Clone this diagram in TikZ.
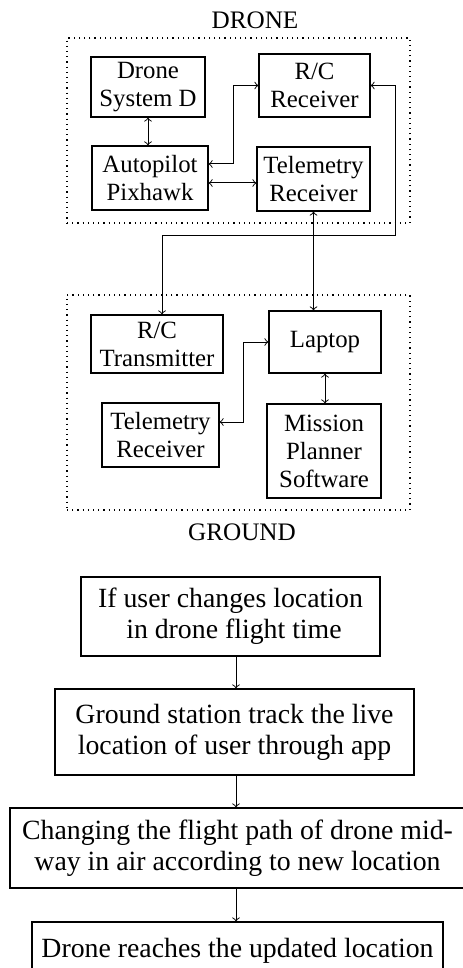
\documentclass[tikz,border=0pt]{standalone}
\usepackage{fontspec}
\setmainfont{Liberation Serif}
\usetikzlibrary{positioning}

\begin{document}
\begin{tikzpicture}[x=0.5pt,y=-0.5pt,inner sep=0pt,
  blk/.style={draw,line width=0.6pt,align=center,font=\fontsize{12.4}{14}\selectfont},
  flow/.style={draw,line width=0.6pt,align=center,font=\fontsize{13.9}{15.5}\selectfont},
  grp/.style={draw,dotted,line width=0.6pt},
  lbl/.style={font=\fontsize{12.6}{14}\selectfont},
  link/.style={line width=0.5pt}]

\useasboundingbox (0,0) rectangle (462,968);

% drone side
\node[grp,minimum width=171.5pt,minimum height=92.5pt] (dronegrp) at (238.5,130.5) {};
\node[lbl] (dronelbl) at (255,20) {DRONE};

\node[blk,minimum width=57pt,minimum height=30pt] (sysd) at (148,87) {Drone\\System D};
\node[blk,minimum width=55.5pt,minimum height=31.5pt] (rcrx) at (314.5,85.5) {R/C\\Receiver};
\node[blk,minimum width=58pt,minimum height=32pt] (auto) at (150,178) {Autopilot\\Pixhawk};
\node[blk,minimum width=56.5pt,minimum height=32pt] (telrx) at (313.5,179) {Telemetry\\Receiver};

% ground side
\node[grp,minimum width=171.5pt,minimum height=107.5pt] (groundgrp) at (238.5,402.5) {};
\node[lbl] (groundlbl) at (242,532) {GROUND};

\node[blk,minimum width=66pt,minimum height=29pt] (rctx) at (157,344) {R/C\\Transmitter};
\node[blk,minimum width=56pt,minimum height=31pt] (laptop) at (325,342) {Laptop};
\node[blk,minimum width=58.5pt,minimum height=32pt] (telgr) at (160.5,435) {Telemetry\\Receiver};
\node[blk,minimum width=57pt,minimum height=47pt] (mission) at (324,451) {Mission\\Planner\\Software};

\coordinate (c1) at (233,164);
\coordinate (c2) at (230,183);
\coordinate (c3) at (395,236);
\coordinate (c4) at (162,236);
\coordinate (c5) at (243,422);

\draw[link,<->] (sysd.south) -- (sysd.south |- auto.north);
\draw[link,<->] (auto.east |- c1) -- (c1) |- (rcrx.west);
\draw[link,<->] (auto.east |- c2) -- (telrx.west |- c2);
\draw[link,<->] (rcrx.east) -| (c3) -- (c4) -- (c4 |- rctx.north);
\draw[link,<->] (telrx.south) -- (telrx.south |- laptop.north);
\draw[link,<->] (telgr.east |- c5) -- (c5) |- (laptop.west);
\draw[link,<->] (laptop.south) -- (laptop.south |- mission.north);

% flow chart
\node[flow,minimum width=149.5pt,minimum height=39.5pt] (step1) at (230.5,616.5) {If user changes location\\\ in drone flight time};
\node[flow,minimum width=179.5pt,minimum height=43pt] (step2) at (234.5,732) {Ground station track the live\\location of user through app};
\node[flow,minimum width=227.5pt,minimum height=40pt] (step3) at (237.5,848) {Changing the flight path of drone mid-\\way in air according to new location};
\node[flow,minimum width=205.5pt,minimum height=29pt] (step4) at (237.5,951) {Drone reaches the updated location};

\coordinate (fx) at (236,0);

\draw[link,->] (step1.south -| fx) -- (step2.north -| fx);
\draw[link,->] (step2.south -| fx) -- (step3.north -| fx);
\draw[link,->] (step3.south -| fx) -- (step4.north -| fx);

\end{tikzpicture}
\end{document}
